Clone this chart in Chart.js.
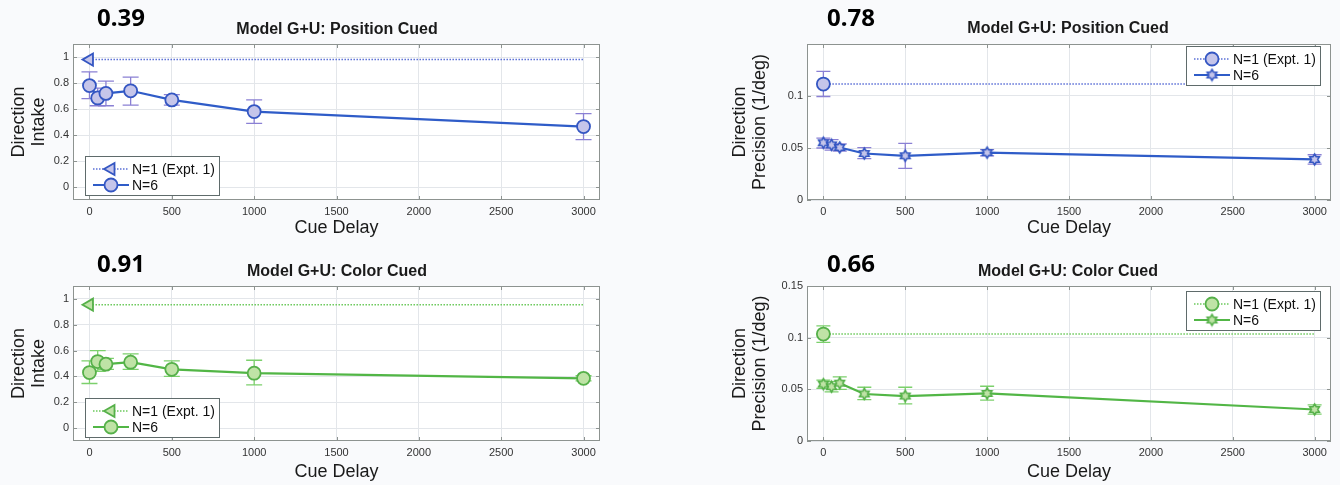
<!DOCTYPE html>
<html>
<head>
<meta charset="utf-8">
<script src="https://cdn.jsdelivr.net/npm/chart.js@4.4.1/dist/chart.umd.min.js"></script>
<style>
  html, body { margin: 0; padding: 0; background: #f9fafc; }
  #page { position: relative; width: 1340px; height: 485px; overflow: hidden; }
  canvas { position: absolute; }
  .score { position: absolute; font: bold 24px 'Noto Sans', sans-serif; line-height: 24px; color: #000; white-space: nowrap; }
  .ptitle { position: absolute; width: 400px; text-align: center; font: bold 16px 'Liberation Sans', Arial, sans-serif; line-height: 16px; color: #1a1a1a; white-space: nowrap; }
</style>
</head>
<body>
<div id="page">
  <canvas id="c1" width="640" height="242" style="left:0;top:0"></canvas>
  <canvas id="c2" width="660" height="242" style="left:680px;top:0"></canvas>
  <canvas id="c3" width="640" height="242" style="left:0;top:243px"></canvas>
  <canvas id="c4" width="660" height="242" style="left:680px;top:243px"></canvas>

  <div class="score" style="left:97px;top:5px">0.39</div>
  <div class="score" style="left:827px;top:5px">0.78</div>
  <div class="score" style="left:97px;top:251px">0.91</div>
  <div class="score" style="left:827px;top:251px">0.66</div>

  <div class="ptitle" style="left:137px;top:21px">Model G+U: Position Cued</div>
  <div class="ptitle" style="left:868px;top:20px">Model G+U: Position Cued</div>
  <div class="ptitle" style="left:137px;top:263px">Model G+U: Color Cued</div>
  <div class="ptitle" style="left:868px;top:263px">Model G+U: Color Cued</div>
</div>
<script>
// x values (ms) and tick labels
const cueDelays = [0, 50, 100, 250, 500, 1000, 3000];
const n1Delays = [0, 3000];
const delayTicks = [0, 500, 1000, 1500, 2000, 2500, 3000];
const intakeTicks = [0, 0.2, 0.4, 0.6, 0.8, 1];
const precisionTicksTop = [0, 0.05, 0.1];
const precisionTicksBottom = [0, 0.05, 0.1, 0.15];

// position cued: direction intake
const posIntakeN1 = [0.98, 0.98];
const posIntakeN6 = [0.78, 0.685, 0.72, 0.74, 0.67, 0.58, 0.465];
const posIntakeN6Hi = [0.885, 0.76, 0.815, 0.845, 0.71, 0.67, 0.565];
const posIntakeN6Lo = [0.68, 0.625, 0.625, 0.63, 0.63, 0.49, 0.365];

// position cued: direction precision
const posPrecN1 = [0.1115, 0.1115];
const posPrecN1Hi = [0.1237, null];
const posPrecN1Lo = [0.0995, null];
const posPrecN6 = [0.055, 0.053, 0.0505, 0.0447, 0.0425, 0.0455, 0.039];
const posPrecN6Hi = [0.0595, 0.058, 0.054, 0.0503, 0.0545, 0.0485, 0.0435];
const posPrecN6Lo = [0.05, 0.048, 0.047, 0.0398, 0.0305, 0.0425, 0.0345];

// color cued: direction intake
const colIntakeN1 = [0.955, 0.955];
const colIntakeN6 = [0.43, 0.515, 0.495, 0.51, 0.455, 0.425, 0.385];
const colIntakeN6Hi = [0.52, 0.6, 0.54, 0.575, 0.52, 0.525, 0.405];
const colIntakeN6Lo = [0.345, 0.44, 0.455, 0.455, 0.4, 0.335, 0.365];

// color cued: direction precision
const colPrecN1 = [0.1035, 0.1035];
const colPrecN1Hi = [0.1115, null];
const colPrecN1Lo = [0.0955, null];
const colPrecN6 = [0.055, 0.0525, 0.056, 0.0455, 0.0435, 0.046, 0.0305];
const colPrecN6Hi = [0.059, 0.0575, 0.062, 0.052, 0.052, 0.053, 0.035];
const colPrecN6Lo = [0.051, 0.0475, 0.05, 0.04, 0.036, 0.0395, 0.026];

const FONT = "'Liberation Sans', Arial, sans-serif";

const blue = { line: '#2f5cc8', dot: '#5b70d6', fill: '#c5c5ea', edge: '#3456c2', err: '#8a80d4' };
const green = { line: '#52b646', dot: '#6cc95c', fill: '#bfe3a6', edge: '#55b049', err: '#7cd06c' };

function toPoints(xs, ys) {
  return xs.map((x, i) => ({ x: x, y: ys[i] }));
}

// six pointed star used as marker for N=6 in the precision plots
function hexagram(r, c) {
  const size = Math.ceil(r * 2 + 4);
  const cv = document.createElement('canvas');
  cv.width = size;
  cv.height = size;
  const g = cv.getContext('2d');
  const m = size / 2;
  g.beginPath();
  for (let i = 0; i < 12; i++) {
    const a = -Math.PI / 2 + i * Math.PI / 6;
    const rr = i % 2 === 0 ? r : r / Math.sqrt(3);
    const px = m + Math.cos(a) * rr;
    const py = m + Math.sin(a) * rr;
    if (i === 0) g.moveTo(px, py); else g.lineTo(px, py);
  }
  g.closePath();
  g.fillStyle = c.fill;
  g.fill();
  g.lineWidth = 1.6;
  g.strokeStyle = c.edge;
  g.stroke();
  return cv;
}

function drawMarker(ctx, ds, x, y) {
  const style = ds.pointStyle;
  const r = Array.isArray(ds.pointRadius) ? ds.pointRadius[0] : ds.pointRadius;
  if (style instanceof HTMLCanvasElement) {
    ctx.drawImage(style, x - style.width / 2, y - style.height / 2);
    return;
  }
  ctx.beginPath();
  if (style === 'triangle') {
    let rad = (ds.pointRotation || 0) * Math.PI / 180;
    for (let k = 0; k < 3; k++) {
      const px = x + Math.sin(rad) * r;
      const py = y - Math.cos(rad) * r;
      if (k === 0) ctx.moveTo(px, py); else ctx.lineTo(px, py);
      rad += 2 * Math.PI / 3;
    }
    ctx.closePath();
  } else {
    ctx.arc(x, y, r, 0, Math.PI * 2);
  }
  ctx.fillStyle = ds.pointBackgroundColor;
  ctx.fill();
  ctx.lineWidth = ds.pointBorderWidth;
  ctx.strokeStyle = ds.pointBorderColor;
  ctx.stroke();
}

// white plot area, box and inner tick marks like matlab axes
const frame = {
  id: 'frame',
  beforeDraw(chart) {
    const { ctx, chartArea: a } = chart;
    ctx.save();
    ctx.fillStyle = '#ffffff';
    ctx.fillRect(a.left, a.top, a.right - a.left, a.bottom - a.top);
    ctx.restore();
  },
  beforeDatasetsDraw(chart) {
    const { ctx, chartArea: a, scales } = chart;
    ctx.save();
    ctx.strokeStyle = '#8d9390';
    ctx.lineWidth = 1;
    ctx.strokeRect(a.left + 0.5, a.top + 0.5, a.right - a.left - 1, a.bottom - a.top - 1);
    ctx.beginPath();
    scales.x.ticks.forEach(t => {
      const px = Math.round(scales.x.getPixelForValue(t.value)) + 0.5;
      ctx.moveTo(px, a.top); ctx.lineTo(px, a.top + 4);
      ctx.moveTo(px, a.bottom); ctx.lineTo(px, a.bottom - 4);
    });
    scales.y.ticks.forEach(t => {
      const py = Math.round(scales.y.getPixelForValue(t.value)) + 0.5;
      ctx.moveTo(a.left, py); ctx.lineTo(a.left + 4, py);
      ctx.moveTo(a.right, py); ctx.lineTo(a.right - 4, py);
    });
    ctx.stroke();
    ctx.restore();
  }
};

const errorBars = {
  id: 'errorBars',
  beforeDatasetsDraw(chart) {
    const { ctx, scales: { x, y } } = chart;
    chart.data.datasets.forEach(ds => {
      if (!ds.errLo) return;
      ctx.save();
      ctx.strokeStyle = ds.errColor;
      ctx.lineWidth = 1.3;
      ds.data.forEach((pt, j) => {
        if (ds.errLo[j] == null) return;
        const px = x.getPixelForValue(pt.x);
        const lo = y.getPixelForValue(ds.errLo[j]);
        const hi = y.getPixelForValue(ds.errHi[j]);
        const c = ds.capHalf;
        ctx.beginPath();
        ctx.moveTo(px, lo); ctx.lineTo(px, hi);
        ctx.moveTo(px - c, lo); ctx.lineTo(px + c, lo);
        ctx.moveTo(px - c, hi); ctx.lineTo(px + c, hi);
        ctx.stroke();
      });
      ctx.restore();
    });
  }
};

// legend drawn inside the plot box
const insideLegend = {
  id: 'insideLegend',
  afterDatasetsDraw(chart, args, opts) {
    const { ctx, chartArea: a } = chart;
    const w = 134, h = 39;
    const left = opts.corner === 'topRight' ? a.right - opts.dx - w : a.left + opts.dx;
    const top = opts.corner === 'topRight' ? a.top + opts.dy : a.bottom - opts.dy - h;
    ctx.save();
    ctx.fillStyle = '#ffffff';
    ctx.fillRect(left, top, w, h);
    ctx.strokeStyle = '#5f6b6b';
    ctx.lineWidth = 1;
    ctx.strokeRect(left + 0.5, top + 0.5, w, h);
    chart.data.datasets.forEach((ds, i) => {
      const cy = top + 13 + i * 16;
      ctx.strokeStyle = ds.borderColor;
      ctx.lineWidth = ds.borderWidth;
      ctx.setLineDash(ds.borderDash || []);
      ctx.beginPath();
      ctx.moveTo(left + 8, cy);
      ctx.lineTo(left + 44, cy);
      ctx.stroke();
      ctx.setLineDash([]);
      drawMarker(ctx, ds, left + 26, cy);
      ctx.fillStyle = '#111';
      ctx.font = '14px ' + FONT;
      ctx.textBaseline = 'middle';
      ctx.textAlign = 'left';
      ctx.fillText(ds.label, left + 47, cy + 1);
    });
    ctx.restore();
  }
};

function makePanel(id, cfg) {
  const c = cfg.colors;
  const datasets = [
    {
      label: 'N=1 (Expt. 1)',
      data: toPoints(n1Delays, cfg.n1),
      borderColor: c.dot,
      borderWidth: 1.5,
      borderDash: [1.5, 1.5],
      pointStyle: cfg.n1Style,
      pointRotation: cfg.n1Style === 'triangle' ? -90 : 0,
      pointRadius: [cfg.n1Style === 'triangle' ? 7 : 6.5, 0],
      pointBackgroundColor: c.fill,
      pointBorderColor: c.edge,
      pointBorderWidth: 1.8,
      errLo: cfg.n1Lo,
      errHi: cfg.n1Hi,
      errColor: c.err,
      capHalf: 7
    },
    {
      label: 'N=6',
      data: toPoints(cueDelays, cfg.n6),
      borderColor: c.line,
      borderWidth: 2.2,
      pointStyle: cfg.n6Style,
      pointRadius: cfg.n6Style === 'circle' ? 6.5 : 6,
      pointBackgroundColor: c.fill,
      pointBorderColor: c.edge,
      pointBorderWidth: 1.8,
      errLo: cfg.n6Lo,
      errHi: cfg.n6Hi,
      errColor: c.err,
      capHalf: cfg.cap
    }
  ];

  return new Chart(document.getElementById(id).getContext('2d'), {
    type: 'line',
    data: { datasets },
    plugins: [frame, errorBars, insideLegend],
    options: {
      responsive: false,
      animation: false,
      events: [],
      elements: { line: { tension: 0 } },
      layout: { padding: cfg.padding },
      plugins: {
        legend: { display: false },
        tooltip: { enabled: false },
        insideLegend: cfg.legend
      },
      scales: {
        x: {
          type: 'linear',
          min: -100,
          max: 3100,
          afterBuildTicks: s => { s.ticks = delayTicks.map(v => ({ value: v })); },
          afterFit: s => { s.height = 40; },
          grid: { color: '#e3e6ea', drawTicks: false },
          border: { display: false },
          ticks: { padding: 5, color: '#333', font: { family: FONT, size: 11 }, callback: v => String(v), maxRotation: 0 },
          title: {
            display: true,
            text: 'Cue Delay',
            color: '#1a1a1a',
            font: { family: FONT, size: 18, lineHeight: 1.05 },
            padding: { top: 0, bottom: cfg.xTitlePad }
          }
        },
        y: {
          type: 'linear',
          min: cfg.yMin,
          max: cfg.yMax,
          afterBuildTicks: s => { s.ticks = cfg.yTicks.map(v => ({ value: v })); },
          afterFit: s => { s.width = cfg.yWidth; },
          grid: { color: '#e3e6ea', drawTicks: false },
          border: { display: false },
          ticks: { padding: 4, color: '#333', font: { family: FONT, size: 11 }, callback: v => String(v) },
          title: {
            display: true,
            text: cfg.yTitle,
            color: '#1a1a1a',
            font: { family: FONT, size: 18, lineHeight: cfg.yLineHeight },
            padding: { top: cfg.yTitlePad, bottom: 0 }
          }
        }
      }
    }
  });
}

makePanel('c1', {
  colors: blue,
  n1: posIntakeN1, n1Style: 'triangle',
  n6: posIntakeN6, n6Hi: posIntakeN6Hi, n6Lo: posIntakeN6Lo, n6Style: 'circle', cap: 8,
  yMin: -0.1, yMax: 1.1, yTicks: intakeTicks,
  yTitle: ['Direction', 'Intake'], yWidth: 73, yTitlePad: 8.8, yLineHeight: 1.111,
  padding: { left: 0, top: 44, right: 40, bottom: 2 }, xTitlePad: 2.5,
  legend: { corner: 'bottomLeft', dx: 12, dy: 5 }
});

makePanel('c2', {
  colors: blue,
  n1: posPrecN1, n1Hi: posPrecN1Hi, n1Lo: posPrecN1Lo, n1Style: 'circle',
  n6: posPrecN6, n6Hi: posPrecN6Hi, n6Lo: posPrecN6Lo, n6Style: hexagram(5.5, blue), cap: 7,
  yMin: 0, yMax: 0.15, yTicks: precisionTicksTop,
  yTitle: ['Direction', 'Precision (1/deg)'], yWidth: 127, yTitlePad: 49.5, yLineHeight: 1.14,
  padding: { left: 0, top: 44, right: 9, bottom: 2 }, xTitlePad: 2.5,
  legend: { corner: 'topRight', dx: 11, dy: 2 }
});

makePanel('c3', {
  colors: green,
  n1: colIntakeN1, n1Style: 'triangle',
  n6: colIntakeN6, n6Hi: colIntakeN6Hi, n6Lo: colIntakeN6Lo, n6Style: 'circle', cap: 8,
  yMin: -0.1, yMax: 1.1, yTicks: intakeTicks,
  yTitle: ['Direction', 'Intake'], yWidth: 73, yTitlePad: 8.8, yLineHeight: 1.111,
  padding: { left: 0, top: 43, right: 40, bottom: 4 }, xTitlePad: -0.5,
  legend: { corner: 'bottomLeft', dx: 12, dy: 4 }
});

makePanel('c4', {
  colors: green,
  n1: colPrecN1, n1Hi: colPrecN1Hi, n1Lo: colPrecN1Lo, n1Style: 'circle',
  n6: colPrecN6, n6Hi: colPrecN6Hi, n6Lo: colPrecN6Lo, n6Style: hexagram(5.5, green), cap: 7,
  yMin: 0, yMax: 0.15, yTicks: precisionTicksBottom,
  yTitle: ['Direction', 'Precision (1/deg)'], yWidth: 127, yTitlePad: 49.5, yLineHeight: 1.14,
  padding: { left: 0, top: 43, right: 9, bottom: 4 }, xTitlePad: -0.5,
  legend: { corner: 'topRight', dx: 11, dy: 5 }
});
</script>
</body>
</html>
